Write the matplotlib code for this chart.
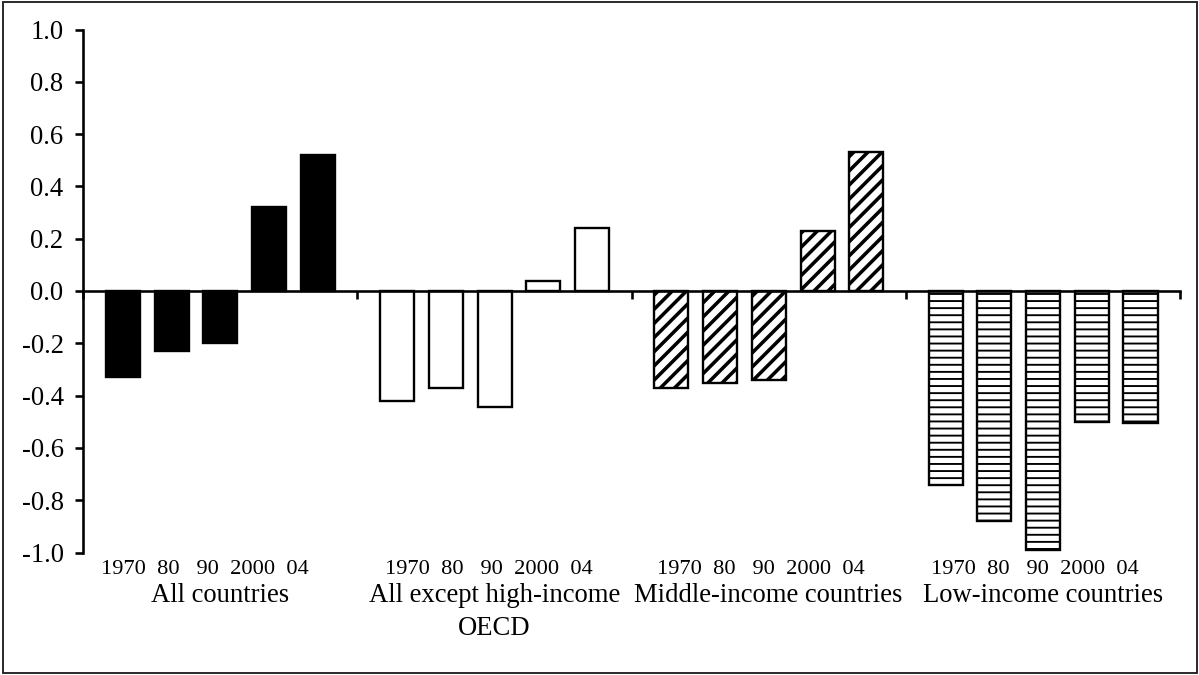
import numpy as np
import matplotlib
matplotlib.use('Agg')
import matplotlib.pyplot as plt
from matplotlib.patches import Rectangle

plt.rcParams['font.family'] = ['Liberation Serif', 'DejaVu Serif']
plt.rcParams['axes.unicode_minus'] = False

# data
groups = ['All countries', 'All except high-income\nOECD',
          'Middle-income countries', 'Low-income countries']
years = ['1970', '80', '90', '2000', '04']
year_gaps = ['  ', '   ', '  ', '  ']
all_countries = [-0.33, -0.23, -0.20, 0.32, 0.52]
all_except_oecd = [-0.42, -0.37, -0.445, 0.04, 0.24]
middle_income = [-0.37, -0.35, -0.34, 0.23, 0.53]
low_income = [-0.74, -0.88, -0.99, -0.50, -0.505]
yticks = [-1.0, -0.8, -0.6, -0.4, -0.2, 0.0, 0.2, 0.4, 0.6, 0.8, 1.0]
ytick_labels = ['-1.0', '-0.8', '-0.6', '-0.4', '-0.2', '0.0', '0.2', '0.4', '0.6', '0.8', '1.0']

series = [all_countries, all_except_oecd, middle_income, low_income]
faces = ['black', 'white', 'white', 'white']
hatches = [None, None, '//', '--']
hatch_lw = [1.0, 1.0, 3.0, 1.6]
year_shift = [-0.32, -0.12, -0.15, -0.17]

dpi = 85
fig = plt.figure(figsize=(1199 / dpi, 675 / dpi), dpi=dpi)
ax = fig.add_axes([83 / 1199, 1 - 552.5 / 675, (1180 - 83) / 1199, 523 / 675])

W = 5.63
x0 = 0.82
for g, vals in enumerate(series):
    xs = g * W + x0 + np.arange(len(vals))
    with plt.rc_context({'hatch.linewidth': hatch_lw[g], 'hatch.color': 'black'}):
        bars = ax.bar(xs, vals, width=0.70, color=faces[g], edgecolor='black',
                      linewidth=2.0, hatch=hatches[g], zorder=2)
        for b in bars:
            if hasattr(b, 'set_hatch_linewidth'):
                b.set_hatch_linewidth(hatch_lw[g])
    ystr = years[0]
    for gap, yr in zip(year_gaps, years[1:]):
        ystr += gap + yr
    ax.text(g * W + W / 2 + year_shift[g], -0.041, ystr, transform=ax.get_xaxis_transform(),
            ha='center', va='baseline', fontsize=19)
    ax.text(g * W + W / 2, -0.059, groups[g], transform=ax.get_xaxis_transform(),
            ha='center', va='top', fontsize=22.5, linespacing=1.4)

ax.set_xlim(0, 4 * W)
ax.set_ylim(-1.0, 1.0)
ax.set_yticks(yticks)
ax.set_yticklabels(ytick_labels, fontsize=22.5)
ax.set_xticks([W * i for i in range(5)])
ax.set_xticklabels([])

for s in ['top', 'right']:
    ax.spines[s].set_visible(False)
ax.spines['bottom'].set_position(('data', 0))
ax.spines['bottom'].set_zorder(3)
ax.spines['left'].set_linewidth(2.2)
ax.spines['bottom'].set_linewidth(2.2)
ax.tick_params(axis='y', direction='out', length=6.5, width=2.2, pad=10)
ax.tick_params(axis='x', direction='out', length=6.8, width=2.2)

fig.patches.append(Rectangle((3 / 1199, 2 / 675), 1194 / 1199, 671 / 675,
                             transform=fig.transFigure, fill=False,
                             edgecolor='#222222', linewidth=1.6))

fig.savefig('out.png', dpi=dpi)
